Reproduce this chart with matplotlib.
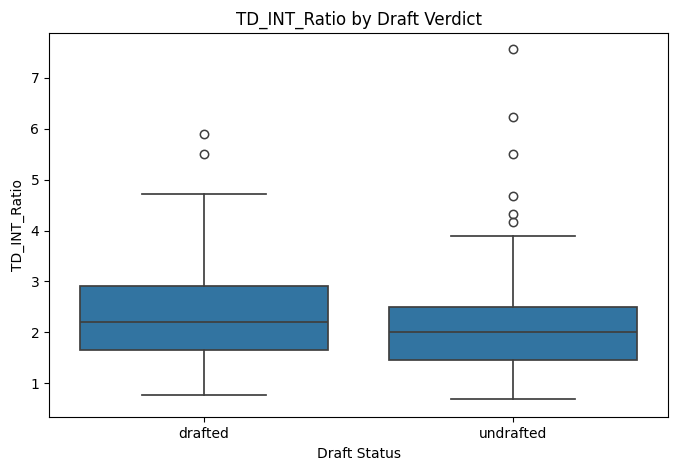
import matplotlib
matplotlib.use("Agg")
import matplotlib.pyplot as plt

# summary stats
categories = ["drafted", "undrafted"]
q1 = [1.65, 1.45]
medians = [2.20, 2.00]
q3 = [2.91, 2.50]
whislo = [0.78, 0.69]
whishi = [4.71, 3.90]
fliers = [
    [5.89, 5.51],
    [7.56, 6.22, 5.51, 4.68, 4.32, 4.16],
]

stats = []
for i, name in enumerate(categories):
    stats.append(dict(label=name, q1=q1[i], med=medians[i], q3=q3[i],
                      whislo=whislo[i], whishi=whishi[i], fliers=fliers[i]))

line_col = "#3f3f3f"
fig, ax = plt.subplots(figsize=(6.78, 4.70), dpi=100)
fig.subplots_adjust(left=0.0723, right=0.9853, top=0.9304, bottom=0.1121)

ax.bxp(stats, positions=range(len(categories)), widths=0.8, patch_artist=True,
       boxprops=dict(facecolor="#3274a1", edgecolor=line_col, linewidth=1.25),
       medianprops=dict(color=line_col, linewidth=1.25),
       whiskerprops=dict(color=line_col, linewidth=1.25),
       capprops=dict(color=line_col, linewidth=1.25),
       capwidths=0.4,
       flierprops=dict(marker="o", markerfacecolor="none", markeredgecolor=line_col,
                       markersize=6, markeredgewidth=1.1))

ax.set_xlim(-0.5, 1.5)
ax.set_ylim(0.333, 7.883)
ax.set_xticks(range(len(categories)))
ax.set_xticklabels(categories)
ax.set_title("TD_INT_Ratio by Draft Verdict")
ax.set_xlabel("Draft Status")
ax.set_ylabel("TD_INT_Ratio")

fig.savefig("out.png", dpi=100)
